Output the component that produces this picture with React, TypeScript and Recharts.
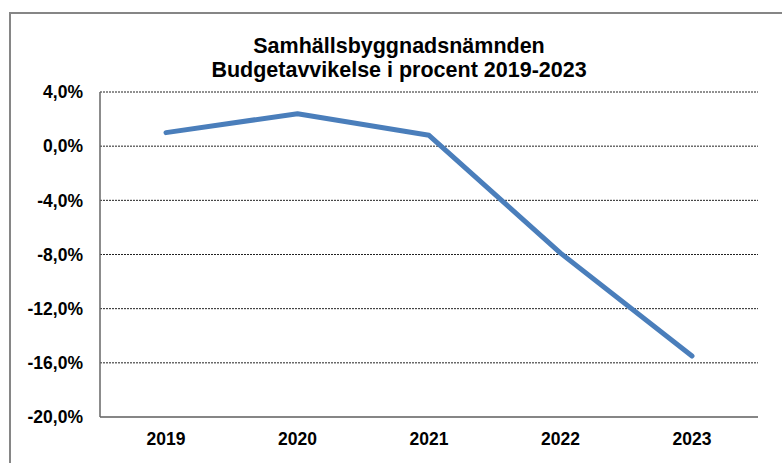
import { CartesianGrid, Line, LineChart, XAxis, YAxis } from "recharts";

const years = ["2019", "2020", "2021", "2022", "2023"];
const deviation = [1.0, 2.4, 0.8, -7.9, -15.5];
const yTicks = [4, 0, -4, -8, -12, -16, -20];

const data = years.map((year, i) => ({ year, value: deviation[i] }));

const font = "'Liberation Sans', Arial, sans-serif";
const tickStyle = { fontFamily: font, fontWeight: "bold" as const, fontSize: 17.5, fill: "#000" };

const fmtPct = (v: number) => v.toFixed(1).replace(".", ",") + "%";

const App = () => {
  return (
    <div style={{ position: "absolute", left: 0, top: 0, width: 782, height: 463, background: "#fff", overflow: "hidden" }}>
      <div
        style={{
          position: "absolute",
          left: 9,
          top: 12,
          width: 900,
          height: 600,
          borderLeft: "2px solid #868686",
          borderTop: "2px solid #868686",
        }}
      />
      <div
        style={{
          position: "absolute",
          left: 0,
          top: 34,
          width: 798,
          textAlign: "center",
          fontFamily: font,
          fontWeight: "bold",
          fontSize: 21.5,
          lineHeight: "24px",
          color: "#000",
        }}
      >
        Samhällsbyggnadsnämnden
        <br />
        Budgetavvikelse i procent 2019-2023
      </div>
      <div style={{ position: "absolute", left: 0, top: 0 }}>
        <LineChart width={782} height={463} data={data} margin={{ top: 92, right: 24, bottom: 0, left: 0 }}>
          <CartesianGrid vertical={false} stroke="#222" strokeDasharray="2 1" strokeWidth={1} />
          <XAxis
            dataKey="year"
            height={46}
            padding={{ left: 66, right: 66 }}
            tickLine={false}
            tickSize={0}
            tickMargin={16}
            axisLine={{ stroke: "#868686", strokeWidth: 2 }}
            tick={tickStyle}
          />
          <YAxis
            width={100}
            domain={[-20, 4]}
            ticks={yTicks}
            interval={0}
            tickFormatter={fmtPct}
            tickLine={false}
            tickSize={0}
            tickMargin={17}
            axisLine={{ stroke: "#666", strokeWidth: 1.5 }}
            tick={tickStyle}
          />
          <Line
            type="linear"
            dataKey="value"
            stroke="#4a7ebb"
            strokeWidth={5}
            strokeLinecap="round"
            strokeLinejoin="round"
            dot={false}
            isAnimationActive={false}
          />
        </LineChart>
      </div>
    </div>
  );
};

export default App;
